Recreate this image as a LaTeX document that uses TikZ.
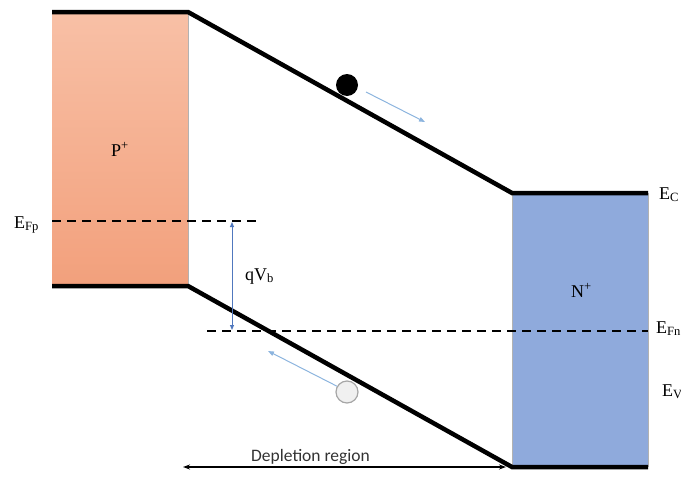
\documentclass[tikz,border=0pt]{standalone}
\usepackage{fontspec}
\setmainfont{Liberation Serif}
\newfontfamily\calib{Carlito}
\usetikzlibrary{arrows.meta}
\definecolor{pTop}{RGB}{248,192,166}
\definecolor{pBot}{RGB}{242,160,124}
\definecolor{nFill}{RGB}{143,170,220}
\definecolor{lightArrow}{RGB}{140,180,222}
\definecolor{midBlue}{RGB}{80,120,190}
\tikzset{band/.style={line width=4.5pt, line join=miter, line cap=butt}}
\tikzset{fermi/.style={line width=1.8pt, dash pattern=on 9pt off 6pt}}
\tikzset{lbl/.style={anchor=base west, inner sep=0pt, font=\fontsize{18}{20}\selectfont}}
\tikzset{carrierarrow/.style={lightArrow, line width=1pt, -{Triangle[length=6pt,width=4.5pt]}}}
\begin{document}
\begin{tikzpicture}[x=1pt,y=-1pt]
\useasboundingbox (0,0) rectangle (681,477);
\fill[top color=pTop, bottom color=pBot] (52,12) rectangle (188,286);
\fill[nFill] (512,193) rectangle (648,467);
\draw[gray!60, line width=0.4pt] (188,12) -- (188,286);
\draw[gray!60, line width=0.4pt] (512,193) -- (512,467) (648,193) -- (648,467);
\coordinate (c1) at (52,12);
\coordinate (c2) at (188,12);
\coordinate (c3) at (512,193);
\coordinate (c4) at (648,193);
\coordinate (v1) at (52,286);
\coordinate (v2) at (188,286);
\coordinate (v3) at (512,467);
\coordinate (v4) at (648,467);
\draw[band] (c1) -- (c2) -- (c3) -- (c4);
\draw[band] (v1) -- (v2) -- (v3) -- (v4);
\coordinate (fp1) at (52,221);
\coordinate (fp2) at (260,221);
\coordinate (fn1) at (207,331);
\coordinate (fn2) at (648,331);
\draw[fermi] (fp1) -- (fp2);
\draw[fermi] (fn1) -- (fn2);
\coordinate (q1) at (232,222);
\coordinate (q2) at (232,330);
\draw[midBlue, line width=1pt, {Triangle[length=5pt,width=4pt]}-{Triangle[length=5pt,width=4pt]}] (q1) -- (q2);
\node[lbl] (qvb) at (245,280) {qV\textsubscript{b}};
\node[circle, fill=black, minimum size=22pt, inner sep=0pt] (el) at (347,85) {};
\coordinate (ea1) at (366,92);
\coordinate (ea2) at (425,122);
\draw[carrierarrow] (ea1) -- (ea2);
\node[circle, fill=gray!12, draw=gray!70, line width=1.2pt, minimum size=22pt, inner sep=0pt] (ho) at (347,392) {};
\coordinate (ha2) at (268,351);
\draw[carrierarrow] (ho.150) -- (ha2);
\coordinate (d1) at (183,467);
\coordinate (d2) at (506,467);
\draw[line width=1.3pt, {Stealth[length=7pt,width=5pt]}-{Stealth[length=7pt,width=5pt]}] (d1) -- (d2);
\node[anchor=base west, inner sep=0pt, font=\calib\fontsize{17.5}{19}\selectfont, text=black!80] (dep) at (251,461) {Depletion region};
\node[lbl] (plab) at (111,156) {P\textsuperscript{+}};
\node[lbl] (nlab) at (571,297) {N\textsuperscript{+}};
\node[lbl] (efp) at (14,228) {E\textsubscript{Fp}};
\node[lbl] (ec) at (659,199) {E\textsubscript{C}};
\node[lbl] (efn) at (656,333) {E\textsubscript{Fn}};
\node[lbl] (ev) at (662,396) {E\textsubscript{V}};
\end{tikzpicture}
\end{document}
